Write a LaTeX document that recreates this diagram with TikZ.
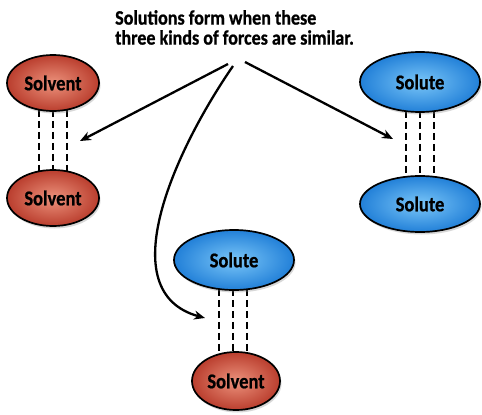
\documentclass[tikz,border=0pt]{standalone}
\usepackage{fontspec}
\setmainfont[FakeStretch=0.88, BoldFeatures={FakeBold=0.8}]{Carlito}
\usetikzlibrary{arrows.meta,shapes.geometric,shadows,backgrounds}
\definecolor{solvout}{RGB}{186,62,46}
\definecolor{solvin}{RGB}{236,146,124}
\definecolor{soluout}{RGB}{34,128,216}
\definecolor{soluin}{RGB}{122,198,248}
\begin{document}
\begin{tikzpicture}[x=1pt,y=-1pt,
  blob/.style={ellipse, draw=black, line width=1.7pt, inner sep=0pt,
    font=\fontsize{21}{22}\selectfont\bfseries,
    drop shadow={shadow xshift=1.5pt, shadow yshift=-2.5pt, opacity=0.3}},
  solvent/.style={blob, minimum width=92pt, minimum height=56pt, inner color=solvin, outer color=solvout},
  solute/.style={blob, minimum width=120pt, minimum height=58pt, inner color=soluin, outer color=soluout},
  force/.style={draw=black, line width=1.2pt, dash pattern=on 7pt off 4pt},
  arr/.style={draw=black, line width=2.3pt, -{Stealth[length=11pt,width=9pt]}}]
\useasboundingbox (0,0) rectangle (482,415);

\node[anchor=north west, align=left, inner sep=0pt,
  font=\fontsize{20.5}{20}\selectfont\bfseries] (title) at (115,10)
  {Solutions form when these\\three kinds of forces are similar.};

% left pair
\node[solvent] (lt) at (53,83) {Solvent};
\node[solvent] (lb) at (53,198) {Solvent};
% right pair
\node[solute, minimum height=60pt] (rt) at (420,82) {Solute};
\node[solute, minimum height=56pt] (rb) at (420,204) {Solute};
% middle pair
\node[solute, minimum height=60pt] (mt) at (234,260) {Solute};
\node[solvent, minimum width=88pt, minimum height=58pt] (mb) at (236,381) {Solvent};

\begin{scope}[on background layer]
\fill[white] (0,0) rectangle (482,415);
\foreach \d in {-14,0,14} {
  \draw[force] ([xshift=\d pt, yshift=2pt]lt.south) -- ([xshift=\d pt, yshift=-2pt]lb.north);
  \draw[force] ([xshift=\d pt, yshift=2pt]rt.south) -- ([xshift=\d pt, yshift=-2pt]rb.north);
  \draw[force] ([xshift=\d pt-1pt, yshift=2pt]mt.south) -- ([xshift=\d pt-3pt, yshift=-2pt]mb.north);
}
\end{scope}

\coordinate (s1) at (228,64);
\coordinate (s2) at (233,66);
\coordinate (s3) at (245,62);
\coordinate (t1) at (80,141);
\coordinate (t2) at (205,318);
\coordinate (t3) at (393,139);

\draw[arr] (s1) -- (t1);
\draw[arr] (s2) .. controls (175,150) and (110,292) .. (t2);
\draw[arr] (s3) -- (t3);
\end{tikzpicture}
\end{document}
